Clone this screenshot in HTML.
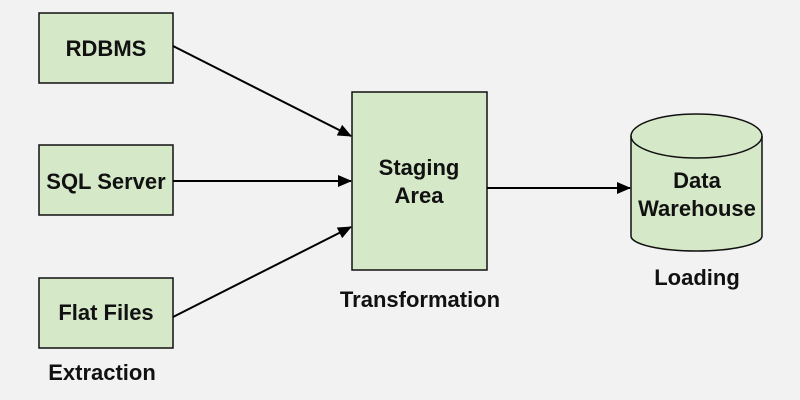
<!DOCTYPE html>
<html><head><style>
body{margin:0;background:#f2f2f2;}
svg{display:block;}
text{font-family:"Liberation Sans","DejaVu Sans",sans-serif;font-weight:bold;font-size:22px;fill:#111;text-anchor:middle;}
</style></head><body>
<svg width="800" height="400" viewBox="0 0 800 400">
<defs><marker id="a" markerWidth="14" markerHeight="12" refX="13" refY="6" orient="auto" markerUnits="userSpaceOnUse"><path d="M0,0 L14,6 L0,12 z" fill="#000"/></marker></defs>
<rect width="800" height="400" fill="#f2f2f2"/>
<g fill="#d5e8c8" stroke="#111" stroke-width="1.5">
<rect x="39" y="13" width="134" height="70"/>
<rect x="39" y="145" width="134" height="70"/>
<rect x="39" y="278" width="134" height="70"/>
<rect x="352" y="92" width="135" height="178"/>
<path d="M631,136 L631,236 A65.5,15 0 0 0 762,236 L762,136 A65.5,22 0 0 0 631,136 z"/>
<path d="M631,136 A65.5,22 0 0 0 762,136" fill="none"/>
</g>
<g stroke="#000" stroke-width="2" marker-end="url(#a)">
<line x1="173" y1="46" x2="351" y2="136"/>
<line x1="173" y1="181" x2="351" y2="181"/>
<line x1="173" y1="317" x2="351" y2="227"/>
<line x1="487" y1="188" x2="630" y2="188"/>
</g>
<text x="106" y="56">RDBMS</text>
<text x="106" y="189">SQL Server</text>
<text x="106" y="320">Flat Files</text>
<text x="419" y="175">Staging</text>
<text x="419" y="203">Area</text>
<text x="697" y="188">Data</text>
<text x="697" y="216">Warehouse</text>
<text x="697" y="285">Loading</text>
<text x="420" y="307">Transformation</text>
<text x="102" y="380">Extraction</text>
</svg>
</body></html>
